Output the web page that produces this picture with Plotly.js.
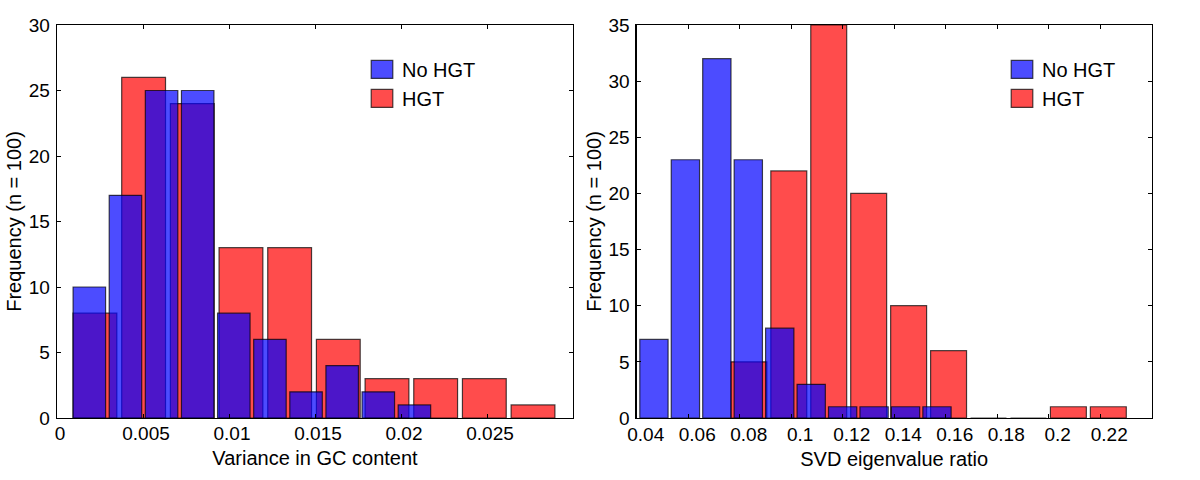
<!DOCTYPE html>
<html>
<head>
<meta charset="utf-8">
<script src="https://cdn.plot.ly/plotly-3.0.1.min.js"></script>
<style>
  html, body { margin: 0; padding: 0; background: #ffffff; }
  #chart { width: 1200px; height: 480px; }
</style>
</head>
<body>
<div id="chart"></div>
<script>
// ---- Data (histogram bin edges and counts) ----
// Left panel: Variance in GC content
const gcNoHgtEdges = [0.00083, 0.00293, 0.00503, 0.00713, 0.00923, 0.01133, 0.01343, 0.01553, 0.01763, 0.01973, 0.02183];
const gcNoHgtCounts = [10, 17, 25, 25, 8, 6, 2, 4, 2, 1];
const gcHgtEdges = [0.00079, 0.00362, 0.00645, 0.00928, 0.01211, 0.01494, 0.01777, 0.02060, 0.02343, 0.02626, 0.02909];
const gcHgtCounts = [8, 26, 24, 13, 13, 6, 3, 3, 3, 1];

// Right panel: SVD eigenvalue ratio
const svdNoHgtEdges = [0.04059, 0.05280, 0.06502, 0.07723, 0.08944, 0.10166, 0.11387, 0.12608, 0.13829, 0.15051, 0.16272];
const svdNoHgtCounts = [7, 23, 32, 23, 8, 3, 1, 1, 1, 1];
const svdHgtEdges = [0.07580, 0.09131, 0.10682, 0.12233, 0.13784, 0.15336, 0.16887, 0.18438, 0.19989, 0.21540, 0.23091];
const svdHgtCounts = [5, 22, 35, 20, 10, 6, 0, 0, 1, 1];

// Tick values / labels
const gcTickVals = [0, 0.005, 0.01, 0.015, 0.02, 0.025];
const gcTickText = ['0', '0.005', '0.01', '0.015', '0.02', '0.025'];
const svdTickVals = [0.04, 0.06, 0.08, 0.1, 0.12, 0.14, 0.16, 0.18, 0.2, 0.22];
const svdTickText = ['0.04', '0.06', '0.08', '0.1', '0.12', '0.14', '0.16', '0.18', '0.2', '0.22'];

const seriesNames = ['No HGT', 'HGT'];
const xTitles = ['Variance in GC content', 'SVD eigenvalue ratio'];
const yTitle = 'Frequency (n = 100)';

// ---- helpers ----
function centers(edges) { return edges.slice(0, -1).map((e, i) => (e + edges[i + 1]) / 2); }
function widths(edges, r) { return edges.slice(0, -1).map((e, i) => (edges[i + 1] - e) * r); }

const RW = 0.9; // relative bar width
const FONT = 'Liberation Sans, Arial, Helvetica, sans-serif';
const BLUE = 'rgba(0,0,255,0.7)';
const RED = 'rgba(255,0,0,0.7)';
const EDGE = 'rgba(0,0,0,0.7)';

function barTrace(edges, counts, name, color, xa, ya, legendId, rank) {
  return {
    type: 'bar',
    x: centers(edges),
    y: counts,
    width: widths(edges, RW),
    name: name,
    xaxis: xa, yaxis: ya,
    legend: legendId,
    legendrank: rank,
    showlegend: true,
    marker: { color: color, line: { color: EDGE, width: 1.2 } },
    hoverinfo: 'x+y+name'
  };
}

const traces = [
  barTrace(gcHgtEdges, gcHgtCounts, seriesNames[1], RED, 'x', 'y', 'legend', 2),
  barTrace(gcNoHgtEdges, gcNoHgtCounts, seriesNames[0], BLUE, 'x', 'y', 'legend', 1),
  barTrace(svdHgtEdges, svdHgtCounts, seriesNames[1], RED, 'x2', 'y2', 'legend2', 2),
  barTrace(svdNoHgtEdges, svdNoHgtCounts, seriesNames[0], BLUE, 'x2', 'y2', 'legend2', 1)
];

const axisCommon = {
  showline: true, linecolor: '#000000', linewidth: 1.3,
  mirror: 'ticks', ticks: 'inside', ticklen: 4, tickwidth: 1, tickcolor: '#000000',
  showgrid: false, zeroline: false,
  tickfont: { family: FONT, size: 19, color: '#000000' }
};

const legendCommon = {
  font: { family: FONT, size: 20, color: '#000000' },
  bgcolor: 'rgba(0,0,0,0)', borderwidth: 0,
  xanchor: 'left', yanchor: 'top', traceorder: 'normal'
};

const layout = {
  width: 1200, height: 480,
  margin: { l: 0, r: 0, t: 25, b: 61.5 },
  paper_bgcolor: '#ffffff', plot_bgcolor: '#ffffff',
  barmode: 'overlay',
  font: { family: FONT, size: 20, color: '#000000' },
  xaxis: Object.assign({}, axisCommon, {
    domain: [57 / 1200, 573 / 1200], range: [0, 0.03],
    tickmode: 'array', tickvals: gcTickVals, ticktext: gcTickText,
    ticklabelshift: 3, ticklabelstandoff: -2,
    title: { text: xTitles[0], font: { family: FONT, size: 20 }, standoff: 8 }
  }),
  yaxis: Object.assign({}, axisCommon, {
    anchor: 'x', range: [0, 30], dtick: 5, ticklabelstandoff: 2,
    title: { text: yTitle, font: { family: FONT, size: 20 }, standoff: 1 }
  }),
  xaxis2: Object.assign({}, axisCommon, {
    domain: [636.7 / 1200, 1151.7 / 1200], anchor: 'y2', range: [0.04, 0.24],
    tickmode: 'array', tickvals: svdTickVals, ticktext: svdTickText,
    ticklabelshift: 9, ticklabelstandoff: -1,
    title: { text: xTitles[1], font: { family: FONT, size: 20 }, standoff: 8 }
  }),
  yaxis2: Object.assign({}, axisCommon, {
    anchor: 'x2', range: [0, 35], dtick: 5, ticklabelstandoff: 2,
    title: { text: yTitle, font: { family: FONT, size: 20 }, standoff: 1 }
  }),
  legend: Object.assign({}, legendCommon, { x: 362 / 1200, y: 1 - 25 / 393.5 }),
  legend2: Object.assign({}, legendCommon, { x: 1002 / 1200, y: 1 - 25 / 393.5 }),
  showlegend: true
};

Plotly.newPlot('chart', traces, layout, { displayModeBar: false, staticPlot: true }).then(function () {
  // enlarge legend patches to the size of the reference's legend boxes
  document.querySelectorAll('.legendpoints path').forEach(function (p) {
    const t = p.getAttribute('transform') || '';
    p.setAttribute('transform', t + ' scale(1.8,1.5)');
    p.setAttribute('vector-effect', 'non-scaling-stroke');
  });
});
</script>
</body>
</html>
